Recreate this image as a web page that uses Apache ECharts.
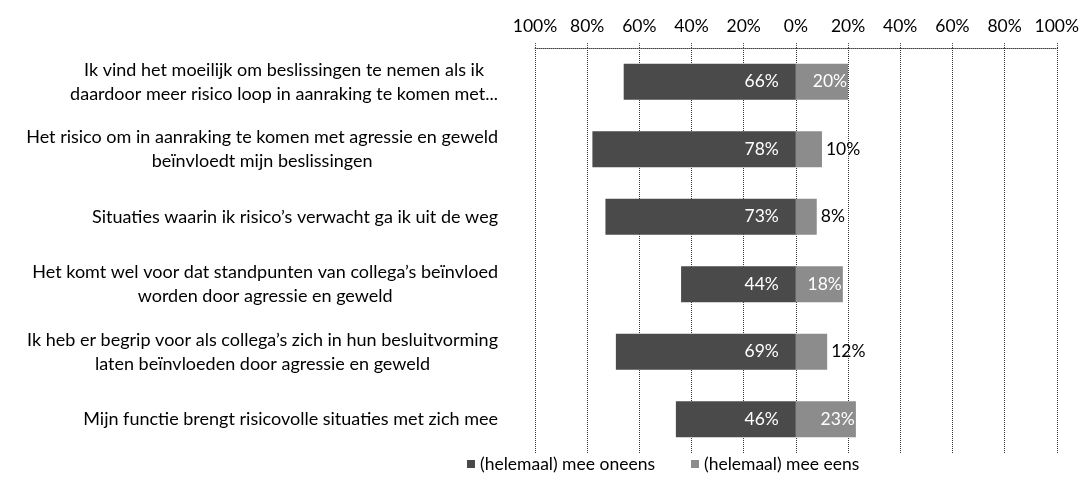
<!DOCTYPE html>
<html>
<head>
<meta charset="utf-8">
<script src="https://cdn.jsdelivr.net/npm/echarts@6/dist/echarts.min.js"></script>
<style>
	html, body { margin: 0; padding: 0; background: #fff; }
	#main { width: 1082px; height: 482px; }
</style>
</head>
<body>
<div id="main"></div>
<script>
// stellingen (van boven naar beneden)
var categories = [
	'Ik vind het moeilijk om beslissingen te nemen als ik\ndaardoor meer risico loop in aanraking te komen met...',
	'Het risico om in aanraking te komen met agressie en geweld\nbeïnvloedt mijn beslissingen',
	'Situaties waarin ik risico\u2019s verwacht ga ik uit de weg',
	'Het komt wel voor dat standpunten van collega\u2019s beïnvloed\nworden door agressie en geweld',
	'Ik heb er begrip voor als collega\u2019s zich in hun besluitvorming\nlaten beïnvloeden door agressie en geweld',
	'Mijn functie brengt risicovolle situaties met zich mee'
];
var seriesNames = ['(helemaal) mee oneens', '(helemaal) mee eens'];
var oneens = [66, 78, 73, 44, 69, 46];
var eens = [20, 10, 8, 18, 12, 23];
var ticks = [-100, -80, -60, -40, -20, 0, 20, 40, 60, 80, 100];

var font = 'Lato, "Open Sans", sans-serif';
var myChart = echarts.init(document.getElementById('main'));

var option = {
	animation: false,
	color: ['#4a4a4a', '#8c8c8c'],
	textStyle: { fontFamily: font },
	legend: {
		bottom: 4,
		left: 462,
		icon: 'rect',
		itemWidth: 8,
		itemHeight: 8,
		itemGap: 36,
		textStyle: { fontSize: 17.5, color: '#000', fontFamily: font },
		data: seriesNames
	},
	grid: { left: 535, right: 24, top: 48, bottom: 29 },
	xAxis: {
		type: 'value',
		position: 'top',
		min: ticks[0],
		max: ticks[ticks.length - 1],
		interval: 20,
		axisLine: { show: true, lineStyle: { color: '#444', type: 'dotted' } },
		axisTick: { show: true, length: 5, lineStyle: { color: '#444', type: 'dotted' } },
		axisLabel: {
			margin: 13,
			fontSize: 17.5,
			color: '#000',
			formatter: function (v) { return Math.abs(v) + '%'; }
		},
		splitLine: { show: true, lineStyle: { color: '#333', type: 'dotted', width: 1 } }
	},
	yAxis: {
		type: 'category',
		inverse: true,
		data: categories,
		axisLine: { show: false },
		axisTick: { show: false },
		axisLabel: {
			margin: 37,
			align: 'right',
			color: '#000',
			formatter: function (v) {
				return v.split('\n').map(function (l) { return '{c|' + l + '}'; }).join('\n');
			},
			rich: {
				c: { align: 'center', fontSize: 18, lineHeight: 24, color: '#000', fontFamily: font }
			}
		}
	},
	series: [{
		name: seriesNames[0],
		type: 'bar',
		stack: 'tot',
		barWidth: 36,
		data: oneens.map(function (v) { return -v; }),
		label: {
			show: true,
			position: 'insideRight',
			distance: 17,
			color: '#fff',
			fontSize: 17.5,
			formatter: function (p) { return Math.abs(p.value) + '%'; }
		}
	}, {
		name: seriesNames[1],
		type: 'bar',
		stack: 'tot',
		barWidth: 36,
		data: eens.map(function (v) {
			// kleine waarden krijgen hun label buiten de balk
			if (v < 15) {
				return { value: v, label: { position: 'right', color: '#000', distance: 4 } };
			}
			return v;
		}),
		label: {
			show: true,
			position: 'insideRight',
			distance: 1,
			color: '#fff',
			fontSize: 17.5,
			formatter: '{c}%'
		}
	}]
};
myChart.setOption(option);
</script>
</body>
</html>
